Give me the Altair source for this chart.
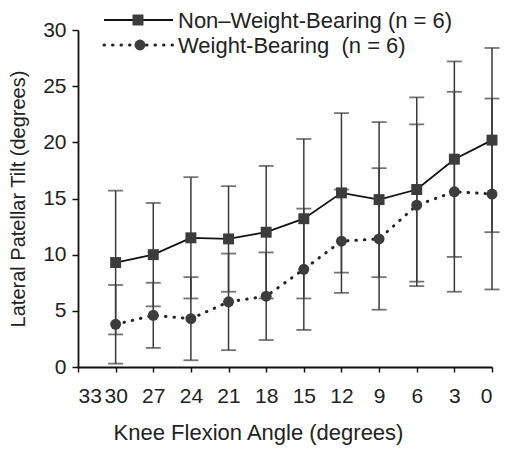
import altair as alt
import pandas as pd

# Knee flexion angles (degrees)
angles = [30, 27, 24, 21, 18, 15, 12, 9, 6, 3, 0]

# Non-Weight-Bearing (n = 6): mean and SD of lateral patellar tilt
nwb_mean = [9.3, 10.0, 11.5, 11.4, 12.0, 13.2, 15.5, 14.9, 15.8, 18.5, 20.2]
nwb_sd = [6.4, 4.6, 5.4, 4.7, 5.9, 7.1, 7.1, 6.9, 8.2, 8.7, 8.2]

# Weight-Bearing (n = 6)
wb_mean = [3.8, 4.6, 4.3, 5.8, 6.3, 8.7, 11.2, 11.4, 14.4, 15.6, 15.4]
wb_sd = [3.5, 2.9, 3.7, 4.3, 3.9, 5.4, 4.6, 6.3, 7.2, 8.9, 8.5]

x_ticks = [33, 30, 27, 24, 21, 18, 15, 12, 9, 6, 3, 0]
y_ticks = [0, 5, 10, 15, 20, 25, 30]

series_names = ["Non\u2013Weight-Bearing (n = 6)", "Weight-Bearing\u00a0 (n = 6)"]

rows = []
for a, m, s in zip(angles, nwb_mean, nwb_sd):
    rows.append({"angle": a, "mean": m, "lo": m - s, "hi": m + s, "series": "NWB"})
for a, m, s in zip(angles, wb_mean, wb_sd):
    rows.append({"angle": a, "mean": m, "lo": m - s, "hi": m + s, "series": "WB"})
df = pd.DataFrame(rows)

FONT = "Liberation Sans"

xs = alt.Scale(domain=[0, 33], reverse=True, nice=False, zero=False)
ys = alt.Scale(domain=[0, 30], nice=False)

X = alt.X("angle:Q", scale=xs, axis=alt.Axis(
    values=x_ticks, title="Knee Flexion Angle (degrees)", grid=False,
    tickSize=5, labelPadding=13, titlePadding=16, labelFontSize=21,
    titleFontSize=22, titleX=180, titleAnchor="start", titleAlign="center"))
Y = alt.Y("mean:Q", scale=ys, axis=alt.Axis(
    values=y_ticks, title="Lateral Patellar Tilt (degrees)", grid=False,
    tickSize=6, labelPadding=6, titlePadding=14, labelFontSize=21,
    titleFontSize=20))

base = alt.Chart(df)

err = base.mark_rule(color="#3a3a3a", strokeWidth=1.5).encode(
    x=X, y=alt.Y("lo:Q", scale=ys), y2="hi:Q")
cap_lo = base.mark_tick(orient="horizontal", color="#3a3a3a", size=15, thickness=1.8).encode(
    x=X, y=alt.Y("lo:Q", scale=ys))
cap_hi = base.mark_tick(orient="horizontal", color="#3a3a3a", size=15, thickness=1.8).encode(
    x=X, y=alt.Y("hi:Q", scale=ys))

line_nwb = base.transform_filter(alt.datum.series == "NWB").mark_line(
    color="#111111", strokeWidth=1.8).encode(x=X, y=Y)
line_wb = base.transform_filter(alt.datum.series == "WB").mark_line(
    color="#222222", strokeWidth=3, strokeDash=[0.5, 8], strokeCap="round").encode(x=X, y=Y)

pts = base.mark_point(filled=True, color="#3c3c3c", size=120, opacity=1).encode(
    x=X, y=Y,
    shape=alt.Shape("series:N", scale=alt.Scale(domain=["NWB", "WB"], range=["square", "circle"]), legend=None))

# manual legend (decoration)
leg_line1 = alt.Chart(pd.DataFrame({"k": [0]})).mark_rule(color="#111111", strokeWidth=1.8).encode(
    x=alt.value(26), x2=alt.value(95), y=alt.value(-10))
leg_pt1 = alt.Chart(pd.DataFrame({"k": [0]})).mark_point(shape="square", filled=True, color="#3c3c3c", size=120, opacity=1).encode(
    x=alt.value(60), y=alt.value(-10))
leg_txt1 = alt.Chart(pd.DataFrame({"t": [series_names[0]]})).mark_text(
    align="left", baseline="middle", font=FONT, fontSize=22, color="#222222").encode(
    x=alt.value(100), y=alt.value(-9), text="t:N")
leg_line2 = alt.Chart(pd.DataFrame({"k": [0]})).mark_rule(color="#222222", strokeWidth=3, strokeDash=[0.5, 8], strokeCap="round").encode(
    x=alt.value(26), x2=alt.value(95), y=alt.value(15))
leg_pt2 = alt.Chart(pd.DataFrame({"k": [0]})).mark_point(shape="circle", filled=True, color="#3c3c3c", size=120, opacity=1).encode(
    x=alt.value(62), y=alt.value(15))
leg_txt2 = alt.Chart(pd.DataFrame({"t": [series_names[1]]})).mark_text(
    align="left", baseline="middle", font=FONT, fontSize=22, color="#222222").encode(
    x=alt.value(100), y=alt.value(16), text="t:N")

chart = alt.layer(
    err, cap_lo, cap_hi, line_nwb, line_wb, pts,
    leg_line1, leg_pt1, leg_txt1, leg_line2, leg_pt2, leg_txt2
).properties(
    width=414, height=337,
    autosize=alt.AutoSizeParams(type="none"),
    padding={"left": 70, "top": 22, "right": 8, "bottom": 84},
    background="white",
).configure_view(stroke=None).configure_axis(
    labelFont=FONT, titleFont=FONT,
    titleFontWeight="normal", labelColor="#222222", titleColor="#222222",
    domainColor="#111111", domainWidth=1.8, tickColor="#111111", tickWidth=1.5,
)

chart.save("out.html", embed_options={"renderer": "svg", "actions": False})
